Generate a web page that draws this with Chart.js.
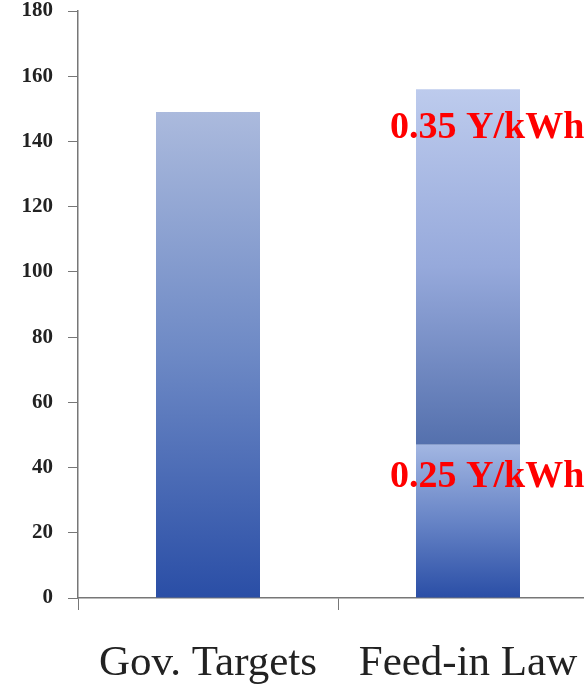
<!DOCTYPE html>
<html>
<head>
<meta charset="utf-8">
<script src="https://cdn.jsdelivr.net/npm/chart.js@4/dist/chart.umd.min.js"></script>
<style>
    html, body { margin: 0; padding: 0; background: #fff; overflow: hidden; }
    #wrap { position: relative; width: 610px; height: 688px; }
</style>
</head>
<body>
<div id="wrap"><canvas id="chart"></canvas></div>
<script>
// データ
const categories = ['Gov. Targets', 'Feed-in Law'];
const lowerValues = [149, 47];     // 下段 (0.25 Y/kWh)
const upperValues = [null, 109];   // 上段 (0.35 Y/kWh)
const yTicks = [0, 20, 40, 60, 80, 100, 120, 140, 160, 180];
const rateLabels = ['0.25 Y/kWh', '0.35 Y/kWh'];
const rateLabelAt = [37, 144];     // ラベルを置く値 (Feed-in Law の棒)

// グラデーション
function barGradient(ctx, colors) {
    const chart = ctx.chart;
    const yScale = chart.scales.y;
    const fallback = colors[1];
    if (!chart.chartArea || !yScale || ctx.type !== 'data') return fallback;
    const ds = chart.data.datasets[ctx.datasetIndex];
    let base = 0;
    for (let i = 0; i < ctx.datasetIndex; i++) {
        base += chart.data.datasets[i].data[ctx.dataIndex] || 0;
    }
    const val = ds.data[ctx.dataIndex] || 0;
    const top = yScale.getPixelForValue(base + val);
    const bottom = yScale.getPixelForValue(base);
    if (!isFinite(top) || !isFinite(bottom) || top === bottom) return fallback;
    const g = chart.ctx.createLinearGradient(0, top, 0, bottom);
    colors.forEach((c, i) => g.addColorStop(i / (colors.length - 1), c));
    return g;
}

const lowerColors = {
    0: ['#abbadd', '#6d89c5', '#2a4ea6'],
    1: ['#a2b6e2', '#6784c6', '#2a4ea6']
};
const upperColors = ['#bdcbed', '#96a9db', '#5470ad'];

// 棒の上の赤いラベル
const rateLabelPlugin = {
    id: 'rateLabels',
    afterDatasetsDraw(chart) {
        const ctx = chart.ctx;
        const x = chart.scales.x.getPixelForValue(1);
        ctx.save();
        ctx.fillStyle = '#ff0000';
        ctx.font = 'bold 38px "Liberation Serif", serif';
        ctx.textAlign = 'left';
        ctx.textBaseline = 'middle';
        rateLabels.forEach((txt, i) => {
            ctx.fillText(txt, x - 78, chart.scales.y.getPixelForValue(rateLabelAt[i]));
        });
        ctx.restore();
    }
};

const chart = new Chart(document.getElementById('chart'), {
    type: 'bar',
    data: {
        labels: categories,
        datasets: [
            {
                data: lowerValues,
                backgroundColor: ctx => barGradient(ctx, lowerColors[ctx.dataIndex] || lowerColors[0]),
                borderWidth: 0,
                barPercentage: 0.8,
                categoryPercentage: 0.5
            },
            {
                data: upperValues,
                backgroundColor: ctx => barGradient(ctx, upperColors),
                borderWidth: 0,
                barPercentage: 0.8,
                categoryPercentage: 0.5
            }
        ]
    },
    options: {
        responsive: true,
        maintainAspectRatio: false,
        animation: false,
        layout: { padding: { top: 11, right: 12, left: 0, bottom: 0 } },
        plugins: {
            legend: { display: false },
            tooltip: { enabled: false }
        },
        scales: {
            x: {
                stacked: true,
                afterFit: s => { s.height = 90; },
                grid: {
                    drawOnChartArea: false,
                    color: '#777',
                    tickLength: 12,
                    offset: true
                },
                border: { color: '#777', width: 1.5 },
                ticks: {
                    color: '#222',
                    padding: 28,
                    font: { family: '"Liberation Serif", serif', size: 43 }
                }
            },
            y: {
                stacked: true,
                min: 0,
                max: 180,
                afterFit: s => { s.width = 78; s.paddingTop = 0; s.paddingBottom = 0; },
                afterBuildTicks: s => { s.ticks = yTicks.map(v => ({ value: v })); },
                grid: {
                    drawOnChartArea: false,
                    color: '#777',
                    tickLength: 10
                },
                border: { color: '#777', width: 1.5 },
                ticks: {
                    color: '#222',
                    padding: 15,
                    font: { family: '"Liberation Serif", serif', size: 21, weight: 'bold' }
                }
            }
        }
    },
    plugins: [rateLabelPlugin]
});
</script>
</body>
</html>
